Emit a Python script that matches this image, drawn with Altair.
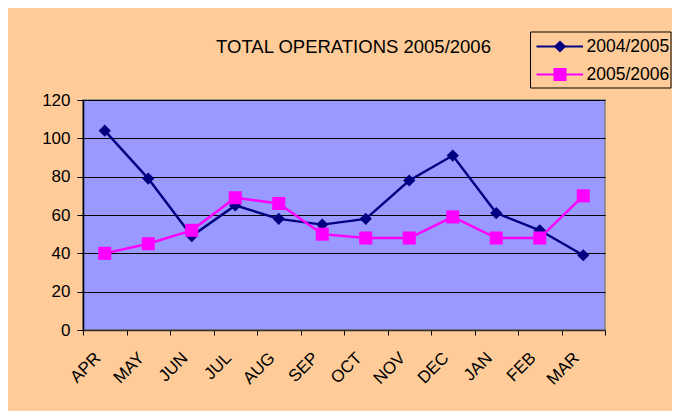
import altair as alt
import pandas as pd

months = ["APR", "MAY", "JUN", "JUL", "AUG", "SEP", "OCT", "NOV", "DEC", "JAN", "FEB", "MAR"]
series_names = ["2004/2005", "2005/2006"]
values_0405 = [104, 79, 49, 65, 58, 55, 58, 78, 91, 61, 52, 39]
values_0506 = [40, 45, 52, 69, 66, 50, 48, 48, 59, 48, 48, 70]
colors = ["#000080", "#FF00FF"]
shapes = ["diamond", "square"]
y_ticks = [0, 20, 40, 60, 80, 100, 120]

rows = []
for m, v in zip(months, values_0405):
    rows.append({"month": m, "series": series_names[0], "value": v})
for m, v in zip(months, values_0506):
    rows.append({"month": m, "series": series_names[1], "value": v})
df = pd.DataFrame(rows)
legend_df = pd.DataFrame({"series": series_names})
box_df = pd.DataFrame({"series": series_names[:1]})

FONT = "Liberation Sans"
PEACH = "#FFCC99"

x_enc = alt.X(
    "month:N",
    sort=months,
    bandPosition=0.5,
    scale=alt.Scale(type="band", paddingInner=0, paddingOuter=0),
    axis=alt.Axis(
        title=None,
        labelAngle=-45,
        labelAlign="right",
        labelBaseline="middle",
        labelFontSize=17,
        labelFont=FONT,
        labelColor="#000000",
        labelOffset=-7,
        tickBand="extent",
        tickColor="#000000",
        tickSize=5,
        domainColor="#303030",
        domainWidth=1.5,
        labelPadding=20,
        grid=False,
    ),
)
y_enc = alt.Y(
    "value:Q",
    scale=alt.Scale(domain=[0, 120], nice=False),
    axis=alt.Axis(
        title=None,
        values=y_ticks,
        labelFontSize=17,
        labelFont=FONT,
        labelColor="#000000",
        tickColor="#000000",
        tickSize=6,
        labelPadding=7,
        domainColor="#000000",
        domainWidth=1.5,
        gridColor="#000000",
        gridWidth=1,
    ),
)
color_scale = alt.Scale(domain=series_names, range=colors)
shape_scale = alt.Scale(domain=series_names, range=shapes)

lines = alt.Chart(df).mark_line(strokeWidth=2.4).encode(
    x=x_enc,
    y=y_enc,
    color=alt.Color("series:N", scale=color_scale, legend=None),
)

pts = alt.Chart(df).mark_point(filled=True, opacity=1).encode(
    x=x_enc,
    y=y_enc,
    color=alt.Color("series:N", scale=color_scale, legend=None),
    shape=alt.Shape("series:N", scale=shape_scale, legend=None),
    size=alt.Size("series:N", scale=alt.Scale(domain=series_names, range=[150, 170]), legend=None),
)

main = alt.layer(lines, pts)

# legend drawn as marks (box, line sample, marker, label)
leg_y = alt.Y(
    "series:N",
    scale=alt.Scale(type="point", domain=series_names, range=[-53.5, -25.5], padding=0),
    axis=None,
)
leg_box = alt.Chart(box_df).mark_rect(fill=PEACH, stroke="#000000", strokeWidth=1).encode(
    x=alt.value(447.5), x2=alt.value(588), y=alt.value(-68), y2=alt.value(-12)
)
leg_line = alt.Chart(legend_df).mark_rule(strokeWidth=2).encode(
    x=alt.value(453.5),
    x2=alt.value(500),
    y=leg_y,
    color=alt.Color("series:N", scale=color_scale, legend=None),
)
leg_pts = alt.Chart(legend_df).mark_point(filled=True, opacity=1).encode(
    x=alt.value(477),
    y=leg_y,
    color=alt.Color("series:N", scale=color_scale, legend=None),
    shape=alt.Shape("series:N", scale=shape_scale, legend=None),
    size=alt.Size("series:N", scale=alt.Scale(domain=series_names, range=[125, 190]), legend=None),
)
leg_text = alt.Chart(legend_df).mark_text(
    align="left", baseline="middle", font=FONT, fontSize=17.5, color="#000000"
).encode(
    x=alt.value(503.5),
    y=leg_y,
    text="series:N",
)
legend = alt.layer(leg_box, leg_line, leg_pts, leg_text)

chart = (
    alt.layer(main, legend)
    .resolve_scale(y="independent")
    .properties(
        width=522,
        height=230,
        title=alt.Title(
            "TOTAL OPERATIONS 2005/2006",
            font=FONT,
            fontSize=18.5,
            fontWeight="normal",
            color="#000000",
            anchor="middle",
            frame="group",
            dx=9.5,
            offset=-25,
        ),
        background=PEACH,
        autosize=alt.AutoSizeParams(type="none"),
        padding={"left": 75, "top": 92, "right": 67, "bottom": 81},
    )
    .configure_view(fill="#9999FF", stroke="#808080", strokeWidth=1.5)
)

chart.save("out.html", embed_options={"renderer": "svg", "actions": False})
